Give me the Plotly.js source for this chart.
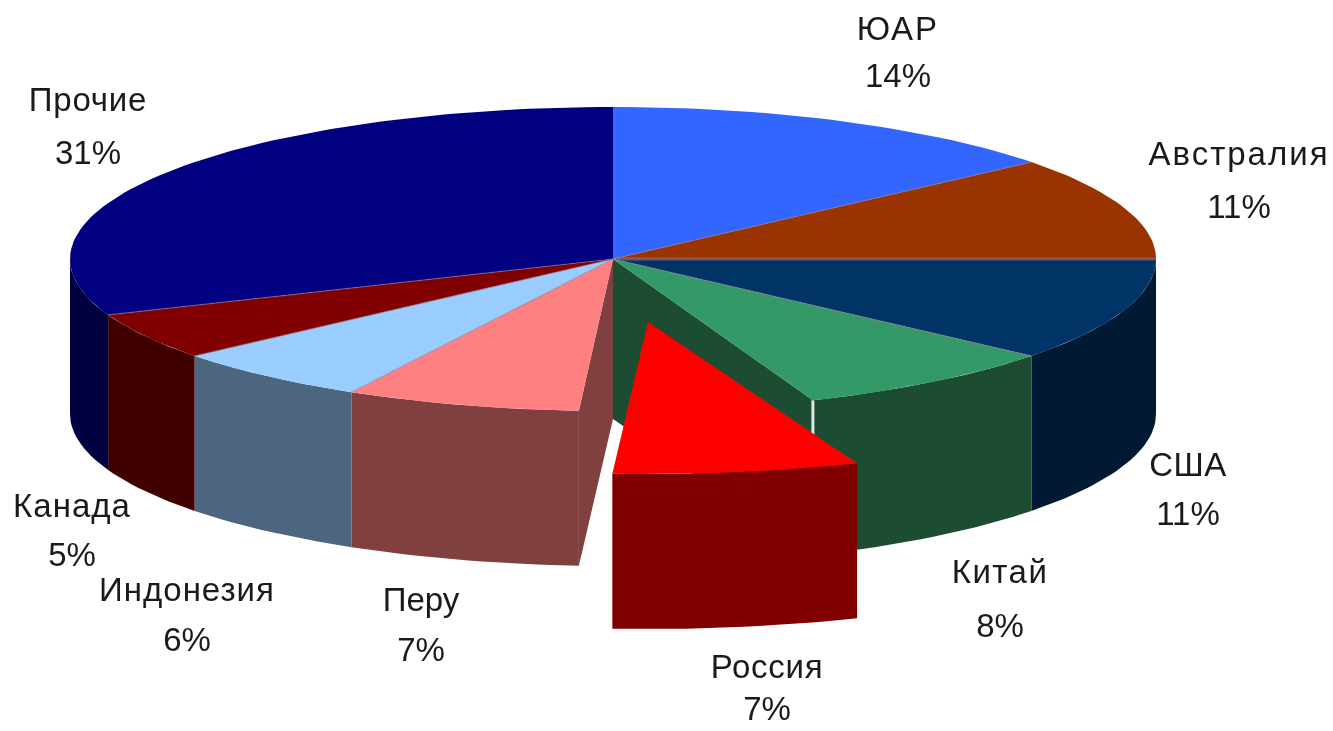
<!DOCTYPE html>
<html><head><meta charset="utf-8">
<script src="https://cdn.plot.ly/plotly-3.0.1.min.js"></script>
<style>html,body{margin:0;padding:0;background:#fff}#chart{width:1333px;height:731px}</style>
</head><body><div id="chart"></div>
<script>
// Data, clockwise from 12 o'clock
const countries = ["ЮАР","Австралия","США","Китай","Россия","Перу","Индонезия","Канада","Прочие"];
const shares = [14,11,11,8,7,7,6,5,31];
const explodedCountry = "Россия";

// Styles
const topColors  = ["#3366FF","#993300","#003366","#339966","#FF0000","#FF8080","#99CCFF","#800000","#000080"];
const wallColors = ["#1A3380","#4D1A00","#001A33","#1C4D33","#800000","#804040","#4D6680","#400000","#000040"];

// Label placement
const labelX   = [898,1239,1188,1000,767,421,187,72,88];
const nameY    = [32,157,468,575,670,603,593,509,103];
const percentY = [79,210,517,629,712,653,643,558,156];
const nameTracking = [2,2,0.5,1.5,0.7,0,1,1,0.8];

// Pie projection (3D pie seen from above)
const cx=613, cy=259, rx=543, ry=152, depth=155, hubDepth=160, xMin=70, xMax=1158;
const explodeDx=35, explodeDy=63, explodeScaleX=1.046, explodeScaleY=1.0;

const total = shares.reduce((a,b)=>a+b,0);
const toDeg = v => v/total*360;
function rim(deg,o){
  const t=deg*Math.PI/180;
  return [Math.min(o.xMax,Math.max(o.xMin,o.cx+o.rx*Math.sin(t))), o.cy-o.ry*Math.cos(t)];
}
function arc(a,b,o){
  const n=Math.max(2,Math.ceil(Math.abs(b-a)/1.5)), pts=[];
  for(let i=0;i<=n;i++) pts.push(rim(a+(b-a)*i/n,o));
  return pts;
}
function poly(pts,color,name){
  return {type:"scatter",mode:"lines",x:pts.map(p=>p[0]).concat(pts[0][0]),y:pts.map(p=>p[1]).concat(pts[0][1]),
    fill:"toself",fillcolor:color,line:{width:0,color:color},name:name,hoverinfo:"name",showlegend:false};
}
function seg(p,q,color,w){
  return {type:"scatter",mode:"lines",x:[p[0],q[0]],y:[p[1],q[1]],line:{width:w,color:color},hoverinfo:"skip",showlegend:false};
}
function wall(a,b,o,color,name){
  const lo=Math.max(a,90), hi=Math.min(b,270);
  if(hi<=lo) return null;
  const top=arc(lo,hi,o), bottom=top.slice().reverse().map(p=>[p[0],p[1]+depth]);
  return poly(top.concat(bottom),color,name);
}

const base={cx,cy,rx,ry,xMin,xMax};
const moved={cx:cx+explodeDx,cy:cy+explodeDy,rx:rx*explodeScaleX,ry:ry*explodeScaleY,xMin:0,xMax:1333};

let start=0; const slices=countries.map((c,i)=>{const s={name:c,a:start,b:start+toDeg(shares[i]),i};start=s.b;return s;});
const ex=slices.find(s=>s.name===explodedCountry);
const rest=slices.filter(s=>s!==ex);
const traces=[];

// outer walls
rest.forEach(s=>{const w=wall(s.a,s.b,base,wallColors[s.i],s.name); if(w) traces.push(w);});

// cut faces exposed by the pulled-out slice
const c0=[cx,cy], c1=[cx,cy+hubDepth];
const rA=rim(ex.a,base), rB=rim(ex.b,base);
traces.push(poly([c0,rA,[rA[0],rA[1]+depth],c1],wallColors[ex.i-1],countries[ex.i-1]));
traces.push(poly([c0,rB,[rB[0],rB[1]+depth],c1],wallColors[ex.i+1],countries[ex.i+1]));
traces.push(seg(rA,[rA[0],rA[1]+50],"#E4E4E4",3));

// top faces
rest.forEach(s=>traces.push(poly([c0].concat(arc(s.a,s.b,base)),topColors[s.i],s.name)));
// soft seams between the top faces
slices.forEach(s=>{ if(s.a>0 && s!==ex && s.i!==ex.i+1) traces.push(seg(c0,rim(s.a,base),"rgba(150,120,150,0.55)",s.a===90?3:1.2)); });

// pulled-out slice
traces.push(wall(ex.a,ex.b,moved,wallColors[ex.i],ex.name));
traces.push(poly([[moved.cx,moved.cy]].concat(arc(ex.a,ex.b,moved)),topColors[ex.i],ex.name));

// labels
const font={family:"Liberation Sans, Arial, sans-serif",size:33,color:"#1a1a1a"};
const nameTraceIndex=traces.length;
traces.push({type:"scatter",mode:"text",x:labelX,y:nameY,text:countries,textposition:"middle center",textfont:font,hoverinfo:"skip",showlegend:false});
traces.push({type:"scatter",mode:"text",x:labelX,y:percentY,text:shares.map(v=>v+"%"),textposition:"middle center",textfont:font,hoverinfo:"skip",showlegend:false});

const layout={width:1333,height:731,margin:{l:0,r:0,t:0,b:0},paper_bgcolor:"#fff",plot_bgcolor:"#fff",showlegend:false,
  xaxis:{range:[0,1333],visible:false,fixedrange:true},
  yaxis:{range:[731,0],visible:false,fixedrange:true}};
Plotly.newPlot("chart",traces,layout,{displayModeBar:false,responsive:false}).then(gd=>{
  const groups=gd.querySelectorAll(".scatterlayer .trace");
  groups[nameTraceIndex].querySelectorAll(".textpoint text").forEach((t,i)=>{t.style.letterSpacing=nameTracking[i]+"px";});
  gd.querySelectorAll(".textpoint text").forEach(t=>{t.style.filter="blur(0.7px)";});
});
</script></body></html>
